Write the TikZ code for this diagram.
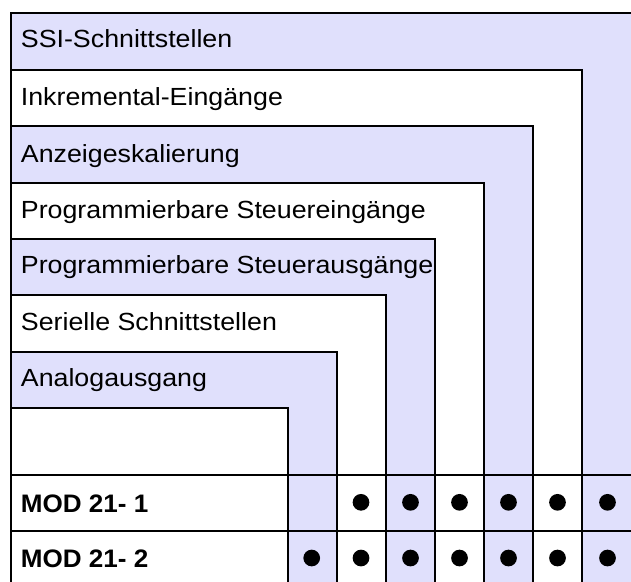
\documentclass[tikz,border=0pt]{standalone}
\usepackage{fontspec}
\setmainfont{Liberation Sans}[FakeStretch=1.08]
\newfontfamily\modfont{Liberation Sans}[FakeStretch=1.03]
\definecolor{bandblue}{RGB}{224,224,252}
\begin{document}
\begin{tikzpicture}[x=1pt,y=-1pt,line width=1.8pt,
  blueband/.style={draw=black,fill=bandblue,line join=miter},
  whiteband/.style={draw=black,fill=white,line join=miter},
  lbl/.style={anchor=base west,inner sep=0pt,font=\fontsize{24.8}{26}\selectfont},
  modlbl/.style={anchor=base west,inner sep=0pt,font=\modfont\bfseries\fontsize{25.3}{26}\selectfont},
  dotmark/.style={circle,fill=black,inner sep=0pt,minimum size=16.7pt}]
\useasboundingbox (0,0) rectangle (631,581);
\clip (0,0) rectangle (631,581);
\fill[white] (0,0) rectangle (631,581);
% bands (L-shaped)
\filldraw[blueband]  (11,13)  -- (634,13)  -- (634,600) -- (582,600) -- (582,70)  -- (11,70)  -- cycle;
\filldraw[whiteband] (11,70)  -- (582,70)  -- (582,600) -- (533,600) -- (533,126) -- (11,126) -- cycle;
\filldraw[blueband]  (11,126) -- (533,126) -- (533,600) -- (484,600) -- (484,183) -- (11,183) -- cycle;
\filldraw[whiteband] (11,183) -- (484,183) -- (484,600) -- (435,600) -- (435,239) -- (11,239) -- cycle;
\filldraw[blueband]  (11,239) -- (435,239) -- (435,600) -- (386,600) -- (386,295) -- (11,295) -- cycle;
\filldraw[whiteband] (11,295) -- (386,295) -- (386,600) -- (337,600) -- (337,352) -- (11,352) -- cycle;
\filldraw[blueband]  (11,352) -- (337,352) -- (337,600) -- (288,600) -- (288,408) -- (11,408) -- cycle;
% left border and table rows
\draw (11,408) -- (11,600);
\draw (11,475) -- (634,475);
\draw (11,531) -- (634,531);
% labels
\node[lbl] (ssi)  at (20,47.5) {SSI-Schnittstellen};
\node[lbl] (ink)  at (20,105) {Inkremental-Eingänge};
\node[lbl] (anz)  at (20,162) {Anzeigeskalierung};
\node[lbl] (pse)  at (20,218) {Programmierbare Steuereingänge};
\node[lbl] (psa)  at (20,273) {Programmierbare Steuerausgänge};
\node[lbl] (ser)  at (20,330) {Serielle Schnittstellen};
\node[lbl] (ana)  at (20,386) {Analogausgang};
\node[modlbl] (m1) at (20,512) {MOD 21- 1};
\node[modlbl] (m2) at (20,567) {MOD 21- 2};
% dots
\foreach \x [count=\i] in {361,410.5,459.5,508.5,557.5,607.5} {
  \node[dotmark] (d1-\i) at (\x,502.3) {};
}
\foreach \x [count=\i] in {311.7,361,410.5,459.5,508.5,557.5,607.5} {
  \node[dotmark] (d2-\i) at (\x,558) {};
}
\end{tikzpicture}
\end{document}
